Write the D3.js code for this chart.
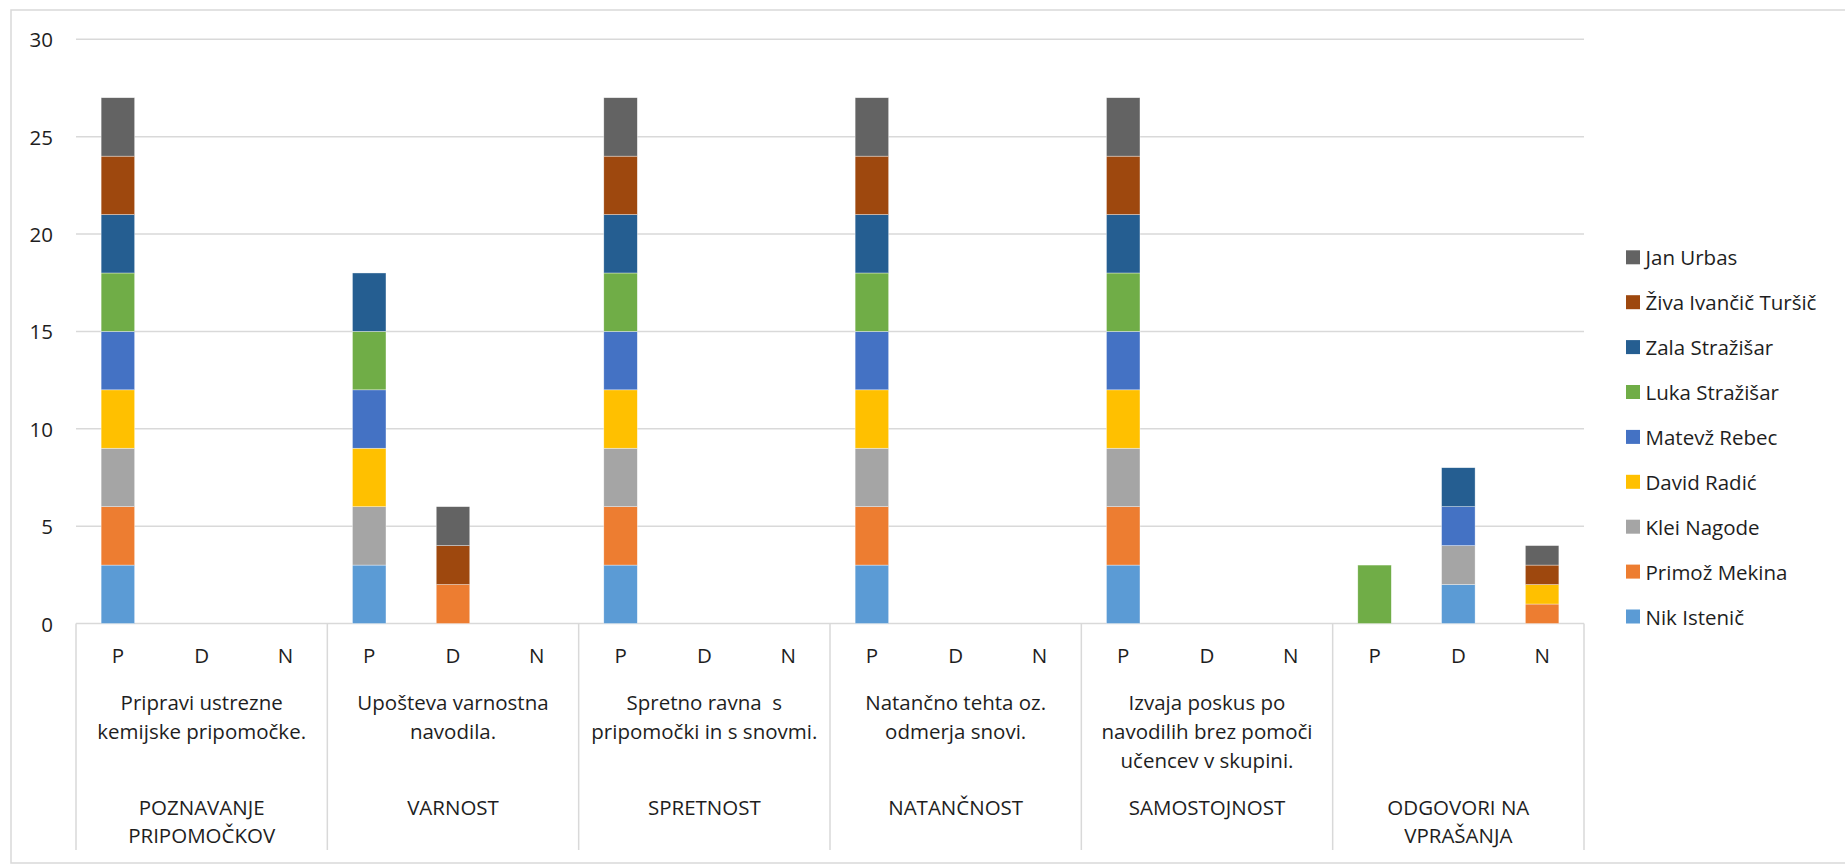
<!DOCTYPE html>
<html>
<head>
<meta charset="utf-8">
<script src="https://cdn.jsdelivr.net/npm/d3@7"></script>
<style>
  html, body { margin: 0; padding: 0; background: #fff; }
  svg { display: block; }
  text { font-family: "Open Sans", sans-serif; fill: #1e1e1e; }
</style>
</head>
<body>
<svg id="chart" width="1845" height="865"></svg>
<script>
// ---- data ----
const subCats = ["P", "D", "N"];
const groupLabels = [
  ["POZNAVANJE", "PRIPOMOČKOV"],
  ["VARNOST"],
  ["SPRETNOST"],
  ["NATANČNOST"],
  ["SAMOSTOJNOST"],
  ["ODGOVORI NA", "VPRAŠANJA"]
];
const criteriaLabels = [
  ["Pripravi ustrezne", "kemijske pripomočke."],
  ["Upošteva varnostna", "navodila."],
  ["Spretno ravna  s", "pripomočki in s snovmi."],
  ["Natančno tehta oz.", "odmerja snovi."],
  ["Izvaja poskus po", "navodilih brez pomoči", "učencev v skupini."],
  []
];
const seriesNames = ["Nik Istenič", "Primož Mekina", "Klei Nagode", "David Radić", "Matevž Rebec",
  "Luka Stražišar", "Zala Stražišar", "Živa Ivančič Turšič", "Jan Urbas"];
const seriesColors = ["#5B9BD5", "#ED7D31", "#A5A5A5", "#FFC000", "#4472C4",
  "#70AD47", "#255E91", "#9E480E", "#636363"];
const nikIstenic    = [3,0,0, 3,0,0, 3,0,0, 3,0,0, 3,0,0, 0,2,0];
const primozMekina  = [3,0,0, 0,2,0, 3,0,0, 3,0,0, 3,0,0, 0,0,1];
const kleiNagode    = [3,0,0, 3,0,0, 3,0,0, 3,0,0, 3,0,0, 0,2,0];
const davidRadic    = [3,0,0, 3,0,0, 3,0,0, 3,0,0, 3,0,0, 0,0,1];
const matevzRebec   = [3,0,0, 3,0,0, 3,0,0, 3,0,0, 3,0,0, 0,2,0];
const lukaStrazisar = [3,0,0, 3,0,0, 3,0,0, 3,0,0, 3,0,0, 3,0,0];
const zalaStrazisar = [3,0,0, 3,0,0, 3,0,0, 3,0,0, 3,0,0, 0,2,0];
const zivaTursic    = [3,0,0, 0,2,0, 3,0,0, 3,0,0, 3,0,0, 0,0,1];
const janUrbas      = [3,0,0, 0,2,0, 3,0,0, 3,0,0, 3,0,0, 0,0,1];
const yTicks = [0, 5, 10, 15, 20, 25, 30];

const seriesValues = [nikIstenic, primozMekina, kleiNagode, davidRadic, matevzRebec,
  lukaStrazisar, zalaStrazisar, zivaTursic, janUrbas];

// ---- layout ----
const svg = d3.select("#chart");
const plot = { left: 76, right: 1584, top: 39.3, bottom: 623.5 };
const FS = 20.5;
const gridColor = "#D9D9D9";

// outer chart border
svg.append("rect")
  .attr("x", 11).attr("y", 10).attr("width", 1850).attr("height", 853)
  .attr("fill", "none").attr("stroke", gridColor).attr("stroke-width", 1.5);

// build rows
const keys = [];
groupLabels.forEach((g, gi) => subCats.forEach((c, ci) => keys.push(gi + "_" + c)));
const table = keys.map((k, i) => {
  const row = { key: k };
  seriesNames.forEach((s, si) => row[s] = seriesValues[si][i]);
  return row;
});

const x = d3.scaleBand().domain(keys).range([plot.left, plot.right])
  .paddingInner(0.6).paddingOuter(0.3);
const y = d3.scaleLinear().domain([0, 30]).range([plot.bottom, plot.top]);

// gridlines
svg.append("g").selectAll("line").data(yTicks).join("line")
  .attr("x1", plot.left).attr("x2", plot.right)
  .attr("y1", d => y(d)).attr("y2", d => y(d))
  .attr("stroke", gridColor).attr("stroke-width", 1.5);

// y tick labels
svg.append("g").selectAll("text").data(yTicks).join("text")
  .attr("x", 53).attr("y", d => y(d))
  .attr("text-anchor", "end").attr("dominant-baseline", "central")
  .attr("font-size", FS).text(d => d);

// stacked bars
const stack = d3.stack().keys(seriesNames);
const stacked = stack(table);
svg.append("g").selectAll("g").data(stacked).join("g")
  .attr("fill", (d, i) => seriesColors[i])
  .selectAll("rect").data(d => d.filter(p => p[1] - p[0] > 0)).join("rect")
  .attr("x", d => x(d.data.key))
  .attr("width", x.bandwidth())
  .attr("y", d => y(d[1]))
  .attr("height", d => y(d[0]) - y(d[1]))
  .attr("stroke", "#ffffff").attr("stroke-width", 0.6).attr("stroke-opacity", 0.6);

// category axis: group separators
const step = x.step();
const groupW = step * 3;
const groupEdges = d3.range(groupLabels.length + 1).map(i => plot.left + i * groupW);
svg.append("g").selectAll("line").data(groupEdges).join("line")
  .attr("x1", d => d).attr("x2", d => d)
  .attr("y1", plot.bottom).attr("y2", 850)
  .attr("stroke", gridColor).attr("stroke-width", 1.5);

// level 1 labels (P/D/N)
svg.append("g").selectAll("text").data(keys).join("text")
  .attr("x", d => x(d) + x.bandwidth() / 2).attr("y", 655)
  .attr("text-anchor", "middle").attr("dominant-baseline", "central")
  .attr("font-size", FS).text(d => d.split("_")[1]);

// level 2 labels
const lineH = 29.2;
criteriaLabels.forEach((lines, gi) => {
  const cx = plot.left + gi * groupW + groupW / 2;
  lines.forEach((ln, li) => {
    svg.append("text").attr("x", cx).attr("y", 701.7 + li * lineH)
      .attr("text-anchor", "middle").attr("dominant-baseline", "central")
      .attr("font-size", FS).style("white-space", "pre").text(ln);
  });
});

// level 3 labels
groupLabels.forEach((lines, gi) => {
  const cx = plot.left + gi * groupW + groupW / 2;
  lines.forEach((ln, li) => {
    svg.append("text").attr("x", cx).attr("y", 806.7 + li * 28.6)
      .attr("text-anchor", "middle").attr("dominant-baseline", "central")
      .attr("font-size", FS).text(ln);
  });
});

// legend (reverse order)
const legendOrder = seriesNames.map((n, i) => i).reverse();
const lg = svg.append("g").selectAll("g").data(legendOrder).join("g")
  .attr("transform", (d, i) => `translate(1626, ${257.3 + i * 44.9})`);
lg.append("rect").attr("x", 0).attr("y", -7).attr("width", 14).attr("height", 14)
  .attr("fill", d => seriesColors[d]);
lg.append("text").attr("x", 19.5).attr("y", 0)
  .attr("dominant-baseline", "central").attr("font-size", FS)
  .text(d => seriesNames[d]);
</script>
</body>
</html>
